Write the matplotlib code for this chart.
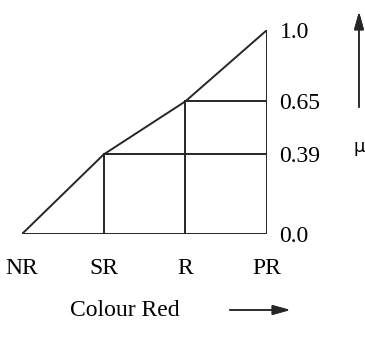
import matplotlib.pyplot as plt

plt.rcParams['font.family'] = ['Liberation Serif', 'DejaVu Serif']

# membership of each red category
categories = ["NR", "SR", "R", "PR"]
mu = [0.0, 0.39, 0.65, 1.0]
mu_ticks = ["0.0", "0.39", "0.65", "1.0"]

LINE = "#262626"
LW = 1.4
FS = 17

fig = plt.figure(figsize=(3.65, 3.4), dpi=100)
ax = fig.add_axes([22 / 365, 106 / 340, 245 / 365, 204 / 340])

x = list(range(len(categories)))
last = x[-1]

# rising membership edge and the base line
ax.plot(x, mu, color=LINE, lw=LW, solid_joinstyle="miter")
ax.plot([x[0], last], [0, 0], color=LINE, lw=LW)

# verticals and horizontals for each category level
for xi, m in zip(x[1:], mu[1:]):
    ax.plot([xi, xi], [0, m], color=LINE, lw=LW)
    ax.plot([xi, last], [m, m], color=LINE, lw=LW)

ax.set_xlim(x[0], last)
ax.set_ylim(0, 1)
for s in ax.spines.values():
    s.set_visible(False)

ax.set_xticks(x)
ax.set_xticklabels(categories, fontsize=FS)
ax.set_yticks(mu)
ax.set_yticklabels(mu_ticks, fontsize=FS)
ax.yaxis.tick_right()
ax.tick_params(length=0)
ax.tick_params(axis="x", pad=17)
ax.tick_params(axis="y", pad=9)

# axis captions with arrows
fig.text(125 / 365, 1 - 311 / 340, "Colour Red", fontsize=FS,
         ha="center", va="center")
fig.add_artist(plt.annotate("", xy=(293 / 365, 1 - 310 / 340),
                            xytext=(227 / 365, 1 - 310 / 340),
                            xycoords="figure fraction",
                            arrowprops=dict(arrowstyle="-|>,head_width=0.25,head_length=0.9",
                                            color=LINE, lw=1.1, mutation_scale=12)))
fig.add_artist(plt.annotate("", xy=(359 / 365, 1 - 9 / 340),
                            xytext=(359 / 365, 1 - 110 / 340),
                            xycoords="figure fraction",
                            arrowprops=dict(arrowstyle="-|>,head_width=0.25,head_length=0.9",
                                            color=LINE, lw=1.1, mutation_scale=12)))
fig.text(359 / 365, 1 - 147 / 340, "μ", fontsize=13,
         ha="center", va="center", family=["DejaVu Sans"])

fig.savefig("out.png", dpi=100)
